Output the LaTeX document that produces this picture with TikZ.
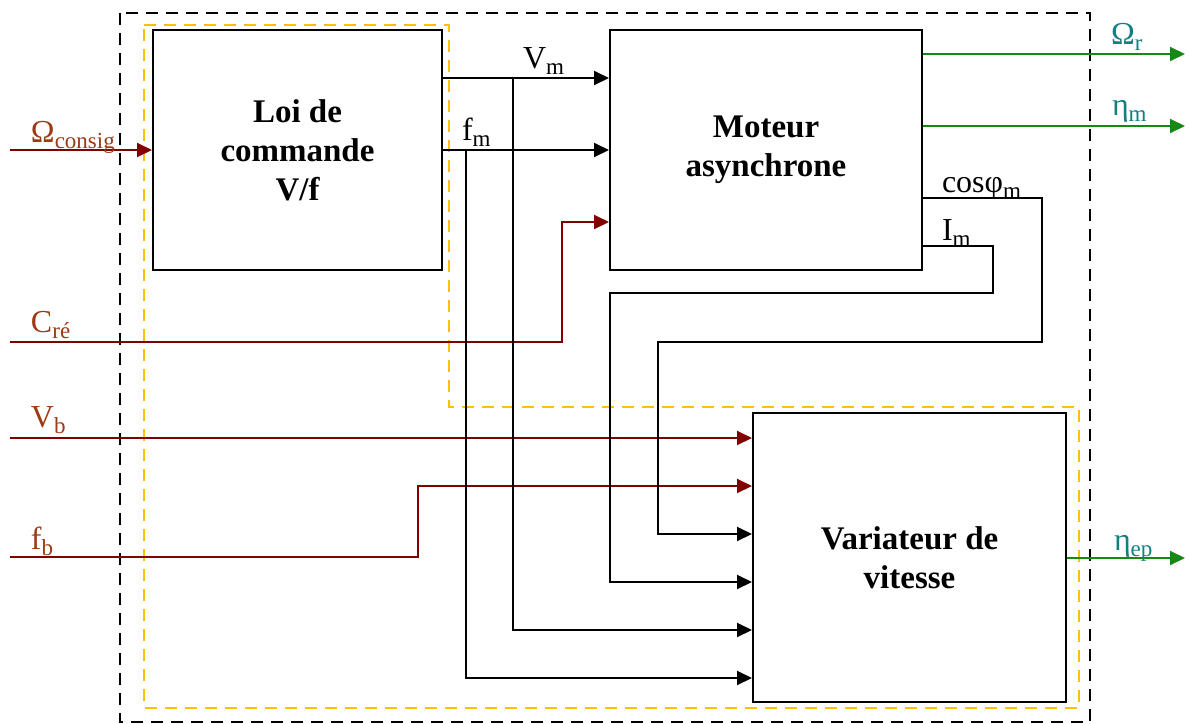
\documentclass[tikz,border=0pt]{standalone}
\usepackage{fontspec}
\setmainfont{Liberation Serif}
\usetikzlibrary{arrows.meta}
\definecolor{sigred}{HTML}{800000}
\definecolor{lblred}{HTML}{9C3A14}
\definecolor{outgreen}{HTML}{138A13}
\definecolor{lblteal}{HTML}{11807F}
\definecolor{zoneorange}{HTML}{FFC000}
\newcommand{\lowidx}[1]{\raisebox{-0.45ex}{\fontsize{11.5}{12}\selectfont#1}}

\begin{document}
\begin{tikzpicture}[x=0.5pt,y=-0.5pt,line width=1pt,
  bloc/.style={draw,line width=1pt,align=center,inner sep=0pt,font=\fontsize{16.5}{19.5}\selectfont\bfseries},
  sig/.style={-{Triangle[length=7.5pt,width=7pt]}},
  lbl/.style={anchor=base west,inner sep=0pt,font=\fontsize{16}{19}\selectfont},
  zone/.style={dashed,dash pattern=on 6pt off 4pt,line width=1.2pt}]
  \useasboundingbox (0,0) rectangle (1191,724);
  \draw[zone,black] (120,13) rectangle (1090,722);
  \draw[zone,zoneorange] (144,25) -- (449,25) -- (449,407) -- (1079,407) -- (1079,708) -- (144,708) -- cycle;
  \node[bloc,minimum width=144.5pt,minimum height=120pt] (loi) at (297.5,150) {Loi de\\commande\\V/f};
  \node[bloc,minimum width=156pt,minimum height=120pt] (moteur) at (766,150) {Moteur\\asynchrone};
  \node[bloc,minimum width=156.5pt,minimum height=144.5pt] (variateur) at (909.5,557.5) {Variateur de\\vitesse};
  \coordinate (oc) at (10,150);
  \coordinate (cre) at (10,342);
  \coordinate (vb) at (10,438);
  \coordinate (fb) at (10,557);
  \coordinate (jv) at (513,78);
  \coordinate (jf) at (466,150);
  \coordinate (or) at (1185,54);
  \coordinate (om) at (1185,126);
  \coordinate (oep) at (1185,558);
  \draw[sig,sigred] (oc) -- (loi.west);
  \draw[sig,sigred] (cre) -- (562,342) |- (moteur.west |- 0,222);
  \draw[sig,sigred] (vb) -- (variateur.west |- vb);
  \draw[sig,sigred] (fb) -- (418,557) |- (variateur.west |- 0,486);
  \draw[sig] (loi.east |- jv) -- (moteur.west |- jv);
  \draw[sig] (loi.east |- jf) -- (moteur.west |- jf);
  \draw[sig] (jv) |- (variateur.west |- 0,630);
  \draw[sig] (jf) |- (variateur.west |- 0,678);
  \draw[sig] (moteur.east |- 0,198) -| (1042,342) -| (658,534) -- (variateur.west |- 0,534);
  \draw[sig] (moteur.east |- 0,246) -| (993,293) -| (610,582) -- (variateur.west |- 0,582);
  \draw[sig,outgreen] (moteur.east |- or) -- (or);
  \draw[sig,outgreen] (moteur.east |- om) -- (om);
  \draw[sig,outgreen] (variateur.east |- oep) -- (oep);
  \node[lbl,lblred] (loc) at (30,142) {Ω\lowidx{consig}};
  \node[lbl,lblred] (lcre) at (30,332) {C\lowidx{ré}};
  \node[lbl,lblred] (lvb) at (30,427) {V\lowidx{b}};
  \node[lbl,lblred] (lfb) at (30,549) {f\lowidx{b}};
  \node[lbl] (lvm) at (522,68) {V\lowidx{m}};
  \node[lbl] (lfm) at (461,140) {f\lowidx{m}};
  \node[lbl] (lcos) at (941,192) {cosφ\lowidx{m}};
  \node[lbl] (lim) at (941,240) {I\lowidx{m}};
  \node[lbl,lblteal] (lor) at (1110,44) {Ω\lowidx{r}};
  \node[lbl,lblteal] (lom) at (1111,115) {η\lowidx{m}};
  \node[lbl,lblteal] (lep) at (1113,550) {η\lowidx{ep}};
\end{tikzpicture}
\end{document}
